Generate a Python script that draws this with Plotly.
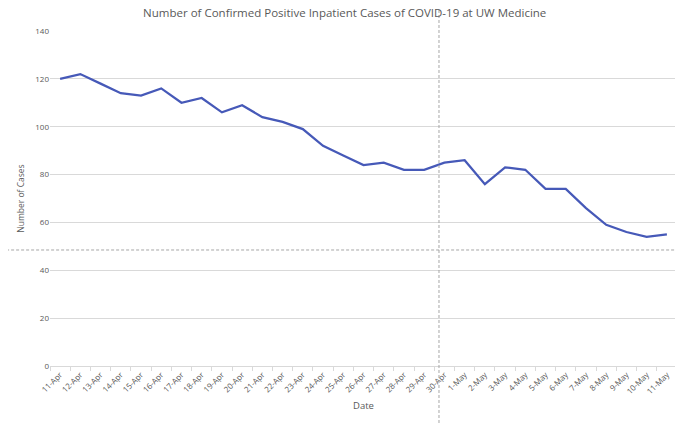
import plotly.graph_objects as go

dates = ["11-Apr", "12-Apr", "13-Apr", "14-Apr", "15-Apr", "16-Apr", "17-Apr", "18-Apr",
         "19-Apr", "20-Apr", "21-Apr", "22-Apr", "23-Apr", "24-Apr", "25-Apr", "26-Apr",
         "27-Apr", "28-Apr", "29-Apr", "30-Apr", "1-May", "2-May", "3-May", "4-May",
         "5-May", "6-May", "7-May", "8-May", "9-May", "10-May", "11-May"]
cases = [120, 122, 118, 114, 113, 116, 110, 112, 106, 109, 104, 102, 99, 92, 88, 84,
         85, 82, 82, 85, 86, 76, 83, 82, 74, 74, 66, 59, 56, 54, 55]
y_ticks = [0, 20, 40, 60, 80, 100, 120, 140]

fig = go.Figure(
    data=go.Scatter(
        x=dates,
        y=cases,
        mode="lines",
        line=dict(color="#4659b8", width=2.25),
    )
)

# the page body has an 8px margin, so margins are set a bit tighter on top/left
fig.update_layout(
    width=683,
    height=424,
    title=dict(text="Number of Confirmed Positive Inpatient Cases of COVID-19 at UW Medicine",
               x=0.493, xanchor="center", y=1, yanchor="top", pad=dict(t=1),
               font=dict(size=11.5, color="#595959")),
    paper_bgcolor="white",
    plot_bgcolor="white",
    font=dict(family="Open Sans", color="#595959", size=8),
    margin=dict(l=42, r=14, t=23, b=66),
    showlegend=False,
    xaxis=dict(
        type="category",
        range=[-0.5, len(dates) - 0.5],
        tickangle=-45,
        showgrid=False,
        showline=True,
        linecolor="#d9d9d9",
        ticks="outside",
        tickson="boundaries",
        ticklen=4,
        tickcolor="#d9d9d9",
        tickfont=dict(size=8),
        automargin=False,
        title=dict(text="Date", font=dict(size=9.5), standoff=7),
    ),
    yaxis=dict(
        range=[0, 140],
        tickvals=y_ticks,
        gridcolor="#d9d9d9",
        zeroline=False,
        showline=False,
        ticks="",
        tickfont=dict(size=8),
        automargin=False,
        title=dict(text="Number of Cases", font=dict(size=8.5), standoff=9),
    ),
)

# dashed guide lines crossing the whole picture
fig.add_shape(type="line", xref="paper", yref="paper",
              x0=0.6204, x1=0.6204, y0=-0.2, y1=1.07,
              line=dict(color="#a6a6a6", width=1, dash="3px,2px"))
fig.add_shape(type="line", xref="paper", yref="paper",
              x0=-0.07, x1=1.03, y0=0.3463, y1=0.3463,
              line=dict(color="#a6a6a6", width=1, dash="3px,2px"))

fig.write_html("out.html")
